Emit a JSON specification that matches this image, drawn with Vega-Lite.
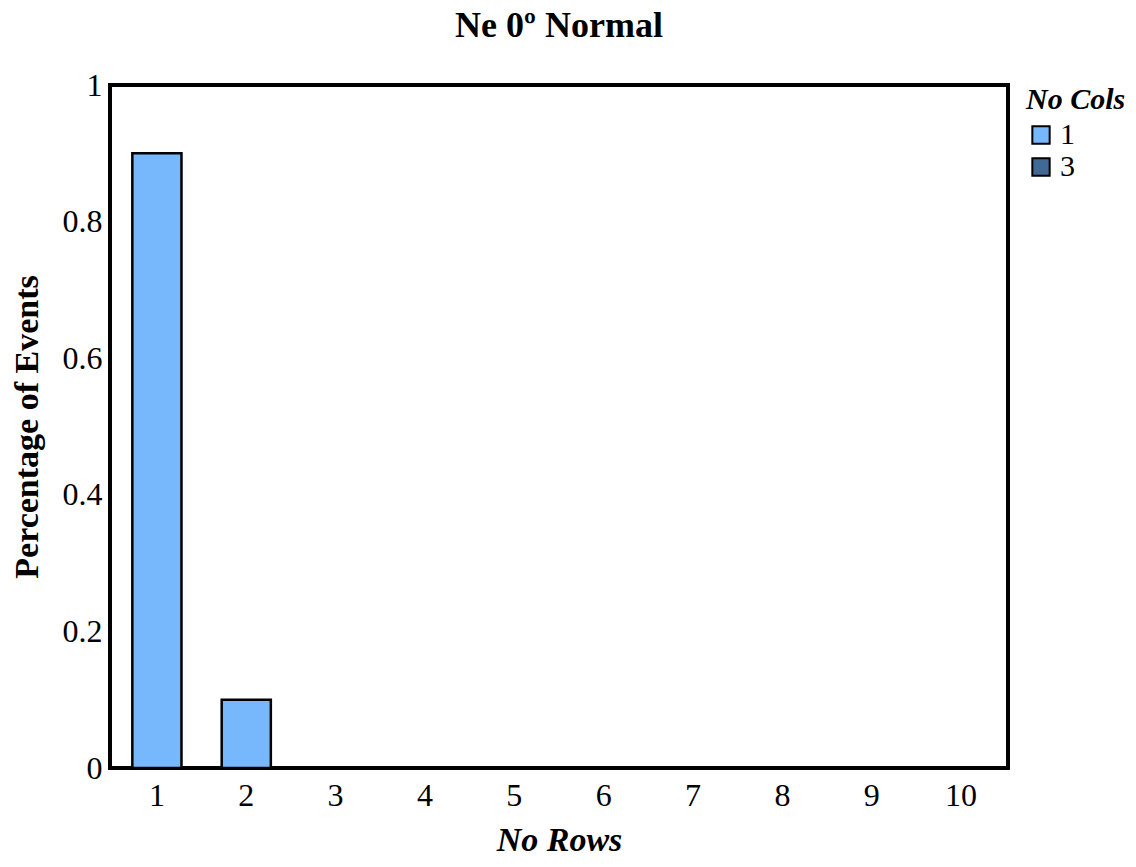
{
  "$schema": "https://vega.github.io/schema/vega-lite/v6.json",
  "width": 1136,
  "height": 867,
  "autosize": {"type": "fit", "contains": "padding"},
  "padding": {"left": 10, "right": 10, "top": 8, "bottom": 10},
  "background": "white",
  "title": {
    "text": "Ne 0º Normal",
    "font": "Liberation Serif",
    "fontSize": 36,
    "fontWeight": "bold",
    "color": "black",
    "offset": 24
  },
  "config": {
    "view": {"stroke": "black", "strokeWidth": 4},
    "font": "Liberation Serif"
  },
  "data": {
    "values": [
      {"row": 1, "col": 1, "pct": 0.9},
      {"row": 2, "col": 1, "pct": 0.1}
    ]
  },
  "mark": {"type": "bar", "stroke": "black", "strokeWidth": 2.5},
  "encoding": {
    "x": {
      "field": "row",
      "type": "ordinal",
      "title": "No Rows",
      "scale": {"domain": [1, 2, 3, 4, 5, 6, 7, 8, 9, 10], "paddingInner": 0.45, "paddingOuter": 0.25},
      "axis": {
        "labelAngle": 0,
        "labelFont": "Liberation Serif",
        "labelFontSize": 32,
        "labelColor": "black",
        "labelPadding": 12,
        "ticks": false,
        "domain": false,
        "titleFont": "Liberation Serif",
        "titleFontSize": 34,
        "titleFontWeight": "bold",
        "titleFontStyle": "italic",
        "titleColor": "black",
        "titlePadding": 12
      }
    },
    "y": {
      "field": "pct",
      "type": "quantitative",
      "title": "Percentage of Events",
      "scale": {"domain": [0, 1]},
      "axis": {
        "values": [0, 0.2, 0.4, 0.6, 0.8, 1],
        "format": "~g",
        "labelFont": "Liberation Serif",
        "labelFontSize": 32,
        "labelColor": "black",
        "labelPadding": 8,
        "ticks": false,
        "domain": false,
        "grid": false,
        "titleFont": "Liberation Serif",
        "titleFontSize": 34,
        "titleFontWeight": "bold",
        "titleColor": "black",
        "titlePadding": 18
      }
    },
    "color": {
      "field": "col",
      "type": "ordinal",
      "title": "No Cols",
      "scale": {"domain": [1, 3], "range": ["#76b8fb", "#3f6a96"]},
      "legend": {
        "orient": "right",
        "titleFont": "Liberation Serif",
        "titleFontSize": 30,
        "titleFontWeight": "bold",
        "titleFontStyle": "italic",
        "titleColor": "black",
        "labelFont": "Liberation Serif",
        "labelFontSize": 30,
        "labelColor": "black",
        "symbolType": "square",
        "symbolSize": 300,
        "symbolStrokeColor": "black",
        "symbolStrokeWidth": 2
      }
    },
    "tooltip": [
      {"field": "row", "title": "No Rows"},
      {"field": "col", "title": "No Cols"},
      {"field": "pct", "title": "Percentage of Events"}
    ]
  }
}
